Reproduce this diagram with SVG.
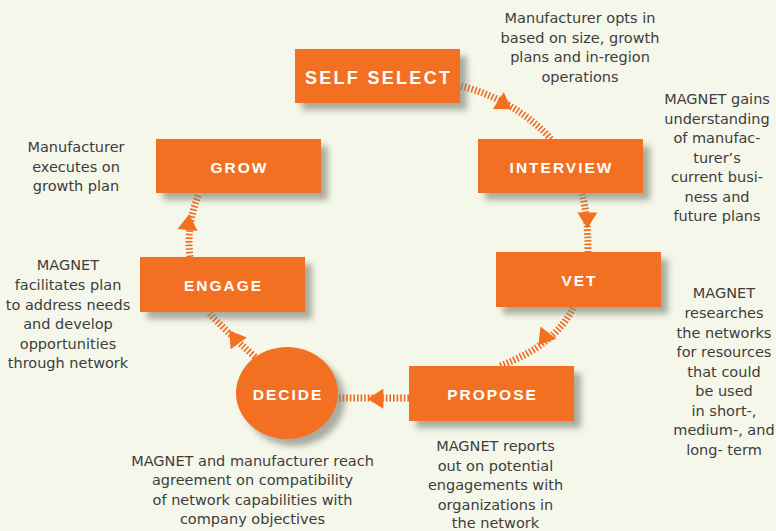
<svg xmlns="http://www.w3.org/2000/svg" xmlns:xlink="http://www.w3.org/1999/xlink" width="776" height="531" viewBox="0 0 776 531">
<style>
.bg{fill:#f5f7ea}
.box{fill:#f37021;filter:url(#sh)}
.lbl{font-family:"Liberation Sans",Arial,sans-serif;font-weight:bold;font-size:15.5px;letter-spacing:2px;fill:#ffffff;text-anchor:middle}
.big{font-size:18px;letter-spacing:2.3px}
.note{font-family:"DejaVu Sans",sans-serif;font-size:14.5px;fill:#3d3d3d;text-anchor:middle}
.con{fill:none;stroke:#ee6a20;stroke-width:7;stroke-dasharray:1.6 2}
.arr{fill:#f37021}
</style>
<defs>
<filter id="sh" x="-20%" y="-30%" width="150%" height="170%">
<feDropShadow dx="7" dy="7" stdDeviation="3" flood-color="#7e8474" flood-opacity="0.65"/>
</filter>
<polygon id="ah" points="8,0 -8,-10 -8,10"/>
</defs>
<rect class="bg" x="0" y="0" width="776" height="531"/>

<g id="connectors">
<path class="con" d="M461 86 Q515 100 551 139"/>
<path class="con" d="M582 194 Q588 215 588 252"/>
<path class="con" d="M573 308 Q555 345 500 366"/>
<path class="con" d="M409 398 L339 398"/>
<path class="con" d="M255 357 Q225 330 208 312"/>
<path class="con" d="M190 257 Q186 225 199 194"/>
<use class="arr" xlink:href="#ah" transform="translate(505 105) rotate(33)"/>
<use class="arr" xlink:href="#ah" transform="translate(587.4 220.4) rotate(90)"/>
<use class="arr" xlink:href="#ah" transform="translate(543.4 339) rotate(128)"/>
<use class="arr" xlink:href="#ah" transform="translate(375.4 398.8) rotate(180)"/>
<use class="arr" xlink:href="#ah" transform="translate(234 337) rotate(234)"/>
<use class="arr" xlink:href="#ah" transform="translate(188.4 222) rotate(-84)"/>
</g>

<g id="self-select">
<rect class="box" x="295" y="49" width="165" height="54"/>
<text class="lbl big" x="378.6" y="84">SELF SELECT</text>
</g>
<g id="interview">
<rect class="box" x="478" y="139" width="165" height="54"/>
<text class="lbl" x="561.5" y="173">INTERVIEW</text>
</g>
<g id="vet">
<rect class="box" x="496" y="252" width="165" height="55"/>
<text class="lbl" x="579.5" y="286">VET</text>
</g>
<g id="propose">
<rect class="box" x="409" y="366" width="165" height="55"/>
<text class="lbl" x="492.5" y="400">PROPOSE</text>
</g>
<g id="decide">
<ellipse class="box" cx="287" cy="393" rx="51" ry="46"/>
<text class="lbl" x="288" y="400">DECIDE</text>
</g>
<g id="engage">
<rect class="box" x="140" y="257" width="165" height="55"/>
<text class="lbl" x="223.5" y="291">ENGAGE</text>
</g>
<g id="grow">
<rect class="box" x="156" y="139" width="165" height="54"/>
<text class="lbl" x="239.5" y="173">GROW</text>
</g>

<g id="notes">
<text class="note" x="580" y="23">Manufacturer opts in</text>
<text class="note" x="580" y="42.5">based on size, growth</text>
<text class="note" x="580" y="62">plans and in-region</text>
<text class="note" x="580" y="81.5">operations</text>

<text class="note" x="717" y="104">MAGNET gains</text>
<text class="note" x="717" y="123.5">understanding</text>
<text class="note" x="717" y="143">of manufac-</text>
<text class="note" x="717" y="162.5">turer’s</text>
<text class="note" x="717" y="182">current busi-</text>
<text class="note" x="717" y="201.5">ness and</text>
<text class="note" x="717" y="221">future plans</text>

<text class="note" x="724" y="298">MAGNET</text>
<text class="note" x="724" y="318">researches</text>
<text class="note" x="724" y="337.5">the networks</text>
<text class="note" x="724" y="357">for resources</text>
<text class="note" x="724" y="376.5">that could</text>
<text class="note" x="724" y="396">be used</text>
<text class="note" x="724" y="415.5">in short-,</text>
<text class="note" x="724" y="435">medium-, and</text>
<text class="note" x="724" y="454.5">long- term</text>

<text class="note" x="495.5" y="451">MAGNET reports</text>
<text class="note" x="495.5" y="470.5">out on potential</text>
<text class="note" x="495.5" y="490">engagements with</text>
<text class="note" x="495.5" y="509.5">organizations in</text>
<text class="note" x="495.5" y="527.5">the network</text>

<text class="note" x="252.5" y="466">MAGNET and manufacturer reach</text>
<text class="note" x="252.5" y="485">agreement on compatibility</text>
<text class="note" x="252.5" y="504.5">of network capabilities with</text>
<text class="note" x="252.5" y="524">company objectives</text>

<text class="note" x="76" y="152">Manufacturer</text>
<text class="note" x="76" y="171.5">executes on</text>
<text class="note" x="76" y="191">growth plan</text>

<text class="note" x="68" y="270">MAGNET</text>
<text class="note" x="68" y="290">facilitates plan</text>
<text class="note" x="68" y="309.5">to address needs</text>
<text class="note" x="68" y="329">and develop</text>
<text class="note" x="68" y="348.5">opportunities</text>
<text class="note" x="68" y="368">through network</text>
</g>
</svg>
